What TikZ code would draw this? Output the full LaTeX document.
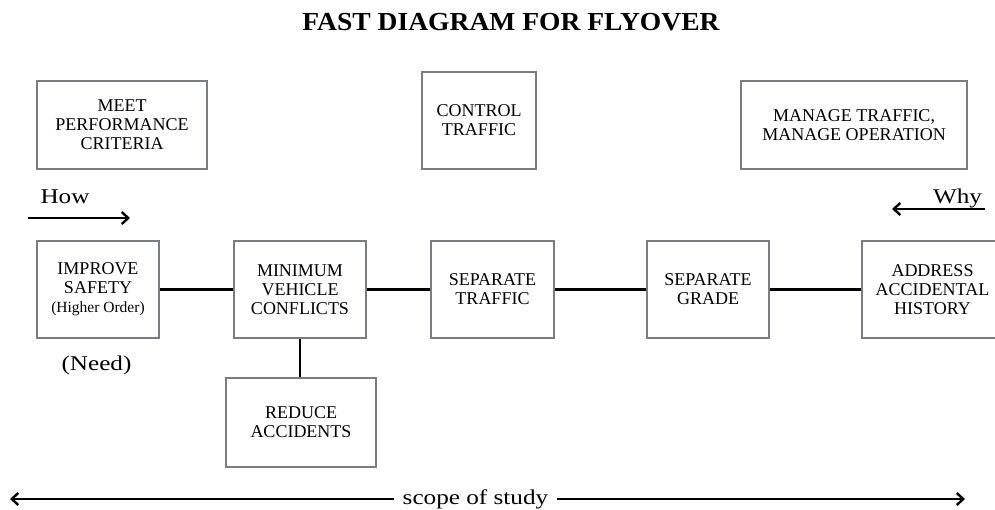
\documentclass[tikz,border=0pt]{standalone}
\usepackage{fontspec}
\setmainfont{Liberation Serif}
\usepackage{graphicx}
\usetikzlibrary{arrows.meta}

\definecolor{boxgray}{HTML}{7A7D82}

\tikzset{
  fastbox/.style={draw=boxgray, line width=2.2pt, fill=white, align=center,
    inner sep=2pt, font=\fontsize{18}{19}\selectfont},
  link/.style={line width=2.8pt, draw=black},
  dirarrow/.style={line width=2.2pt, draw=black,
    -{Straight Barb[length=6.5pt,width=12pt,line width=2.4pt]}},
  biglabel/.style={inner sep=0pt, anchor=base, font=\fontsize{21}{24}\selectfont},
}

\newcommand{\wide}[1]{\scalebox{1.2}[1]{#1}}

\begin{document}
\begin{tikzpicture}[x=1pt, y=-1pt]
  \useasboundingbox (0,0) rectangle (995,509);

  % title
  \node[inner sep=0pt, font=\fontsize{26}{28}\selectfont\bfseries] (title) at (511,22)
    {\scalebox{1.06}[1]{FAST DIAGRAM FOR FLYOVER}};

  % higher-level functions
  \node[fastbox, minimum width=170pt, minimum height=88pt] (meet) at (122,125)
    {MEET\\PERFORMANCE\\CRITERIA};
  \node[fastbox, minimum width=114pt, minimum height=97pt] (control) at (479,120.5)
    {CONTROL\\TRAFFIC};
  \node[fastbox, minimum width=226pt, minimum height=88pt] (manage) at (854,125)
    {MANAGE TRAFFIC,\\MANAGE OPERATION};

  % how / why directions
  \node[biglabel] (how) at (65,203) {\wide{How}};
  \node[biglabel] (why) at (957.5,203) {\wide{Why}};
  \coordinate (howS) at (28,218);
  \coordinate (howE) at (130,218);
  \coordinate (whyS) at (985,209);
  \coordinate (whyE) at (892,209);
  \draw[dirarrow] (howS) -- (howE);
  \draw[dirarrow] (whyS) -- (whyE);

  % critical path
  \node[fastbox, minimum width=122pt, minimum height=97pt] (improve) at (98,289.5)
    {IMPROVE\\SAFETY\\{\fontsize{15.5}{19}\selectfont(Higher Order)}};
  \node[fastbox, minimum width=132pt, minimum height=97pt] (minimum) at (300,289.5)
    {MINIMUM\\VEHICLE\\CONFLICTS};
  \node[fastbox, minimum width=123pt, minimum height=97pt] (septraffic) at (492.5,289.5)
    {SEPARATE\\TRAFFIC};
  \node[fastbox, minimum width=122pt, minimum height=97pt] (sepgrade) at (708,289.5)
    {SEPARATE\\GRADE};
  \node[fastbox, minimum width=141pt, minimum height=97pt] (address) at (932.5,289.5)
    {ADDRESS\\ACCIDENTAL\\HISTORY};

  \node[biglabel] (need) at (96.5,370) {\wide{(Need)}};

  % supporting function
  \node[fastbox, minimum width=150pt, minimum height=89pt] (reduce) at (301,422.5)
    {REDUCE\\ACCIDENTS};

  \draw[link] (improve) -- (minimum);
  \draw[link] (minimum) -- (septraffic);
  \draw[link] (septraffic) -- (sepgrade);
  \draw[link] (sepgrade) -- (address);
  \draw[link] (minimum.south) -- (reduce.north -| minimum.south);

  % scope line
  \node[biglabel, inner xsep=9pt] (scope) at (475.5,504) {\wide{scope of study}};
  \coordinate (scopeL) at (10,499);
  \coordinate (scopeR) at (965,499);
  \draw[dirarrow, line width=2.6pt] (scope.west |- scopeL) -- (scopeL);
  \draw[dirarrow, line width=2.6pt] (scope.east |- scopeR) -- (scopeR);
\end{tikzpicture}
\end{document}
